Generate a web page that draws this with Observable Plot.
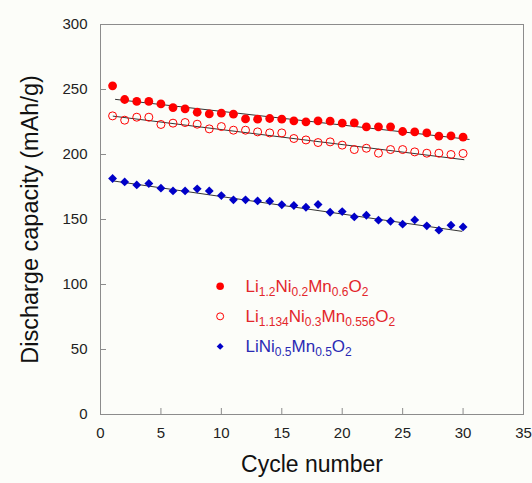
<!DOCTYPE html>
<html><head><meta charset="utf-8">
<script src="https://cdn.jsdelivr.net/npm/d3@7"></script>
<script src="https://cdn.jsdelivr.net/npm/@observablehq/plot@0.6"></script>
<style>
html,body{margin:0;padding:0;background:#fcfdf9;}
#chart{width:532px;height:483px;}
</style></head><body><div id="chart"></div>
<script>
// ---- data ----
const cycles = [1,2,3,4,5,6,7,8,9,10,11,12,13,14,15,16,17,18,19,20,21,22,23,24,25,26,27,28,29,30];
const li12 = [252.8,242.3,240.8,240.8,238.9,236.1,235.1,232.5,231.2,231.8,231.0,227.4,227.2,227.7,227.2,225.9,225.1,225.9,225.6,224.1,224.3,221.3,221.3,221.3,217.7,217.4,216.6,214.1,214.3,213.3];
const li1134 = [229.7,226.4,228.7,228.7,223.1,224.1,224.6,223.3,219.7,221.5,218.7,218.7,217.4,216.6,216.6,212.3,211.2,209.2,209.7,207.2,203.8,204.8,201.0,203.8,203.8,202.0,201.0,201.0,200.0,200.8];
const lini = [181.5,178.9,176.6,177.7,174.1,172.0,172.0,173.6,172.0,168.4,165.1,165.1,164.3,164.1,161.3,160.8,159.4,161.5,155.6,156.1,152.0,153.3,149.5,148.7,146.4,149.7,145.1,141.8,145.6,144.3];
// linear fit lines (end points)
const fitLi12X = [1.24, 30.5],  fitLi12Y = [242.4, 211.6];
const fitLi1134X = [1.05, 30.07], fitLi1134Y = [229.5, 196.0];
const fitLiniX = [1.1, 29.9],   fitLiniY = [179.6, 140.9];
const xTicks = [0,5,10,15,20,25,30,35];
const yTicks = [0,50,100,150,200,250,300];
const legendLabels = ["Li_{1.2}Ni_{0.2}Mn_{0.6}O_{2}", "Li_{1.134}Ni_{0.3}Mn_{0.556}O_{2}", "LiNi_{0.5}Mn_{0.5}O_{2}"];
const xLabel = "Cycle number";
const yLabel = "Discharge capacity (mAh/g)";

// ---- tables ----
const rows = (vals) => cycles.map((c, i) => ({cycle: c, value: vals[i]}));
const fit = (xs, ys) => xs.map((x, i) => ({cycle: x, value: ys[i]}));
const RED = "#ff0000", BLUE = "#0000c8";
const legendRows = legendLabels.map((label, i) => ({label, i}));
const legendY = i => 98.6 - i * 23.1;
const font = "'Liberation Sans', Arial, sans-serif";

const chart = Plot.plot({
  width: 532, height: 483,
  marginLeft: 100, marginRight: 9, marginTop: 24, marginBottom: 69,
  x: {domain: [0, 35]},
  y: {domain: [0, 300]},
  style: {fontFamily: font, background: "transparent"},
  marks: [
    Plot.frame({stroke: "#8c8c8c"}),
    Plot.axisX(xTicks, {tickSize: -6, tickPadding: 19, fontSize: 15, stroke: "#8c8c8c", fill: "#222", label: null}),
    Plot.axisY(yTicks, {tickSize: -6, tickPadding: 19, fontSize: 15, stroke: "#8c8c8c", fill: "#222", label: null}),
    Plot.text([xLabel], {frameAnchor: "bottom", dy: 57, fontSize: 23, fill: "#111", text: d => d}),
    Plot.text([yLabel], {frameAnchor: "left", dx: -70, rotate: -90, textAnchor: "middle", fontSize: 23.5, fill: "#111", text: d => d}),
    Plot.line(fit(fitLi12X, fitLi12Y), {x: "cycle", y: "value", stroke: "#333", strokeWidth: 1}),
    Plot.line(fit(fitLi1134X, fitLi1134Y), {x: "cycle", y: "value", stroke: "#333", strokeWidth: 1}),
    Plot.line(fit(fitLiniX, fitLiniY), {x: "cycle", y: "value", stroke: "#333", strokeWidth: 1}),
    Plot.dot(rows(li12), {x: "cycle", y: "value", r: 4.4, fill: RED, stroke: "none"}),
    Plot.dot(rows(li1134), {x: "cycle", y: "value", r: 4, fill: "none", stroke: RED, strokeWidth: 1}),
    Plot.dot(rows(lini), {x: "cycle", y: "value", r: 4, symbol: "diamond2", fill: BLUE, stroke: "none"}),
    // legend
    Plot.dot(legendRows.filter(d => d.i === 0), {x: () => 9.9, y: d => legendY(d.i), r: 3.8, fill: RED, stroke: "none"}),
    Plot.dot(legendRows.filter(d => d.i === 1), {x: () => 9.9, y: d => legendY(d.i), r: 3.5, fill: "none", stroke: RED, strokeWidth: 1}),
    Plot.dot(legendRows.filter(d => d.i === 2), {x: () => 9.9, y: d => legendY(d.i), r: 3.1, symbol: "diamond2", fill: BLUE, stroke: "none"}),
    Plot.text(legendRows, {x: () => 12, y: d => legendY(d.i), text: "label", textAnchor: "start", fontSize: 17,
      fill: d => d.i === 2 ? "#2a2ab4" : "#e3262b"})
  ]
});
document.getElementById("chart").appendChild(chart);

// subscripts for chemical formulas
d3.select(chart).selectAll("text").filter(function() { return this.textContent.includes("_{"); }).each(function() {
  const t = d3.select(this);
  const s = this.textContent;
  t.selectAll("*").remove();
  t.text(null);
  const re = /_\{([^}]*)\}|([^_]+)/g;
  let m, sub = false;
  while ((m = re.exec(s))) {
    if (m[1] !== undefined) {
      t.append("tspan").attr("font-size", 12).attr("dy", sub ? 0 : 4).text(m[1]);
      sub = true;
    } else {
      t.append("tspan").attr("dy", sub ? -4 : 0).text(m[2]);
      sub = false;
    }
  }
});
</script></body></html>
